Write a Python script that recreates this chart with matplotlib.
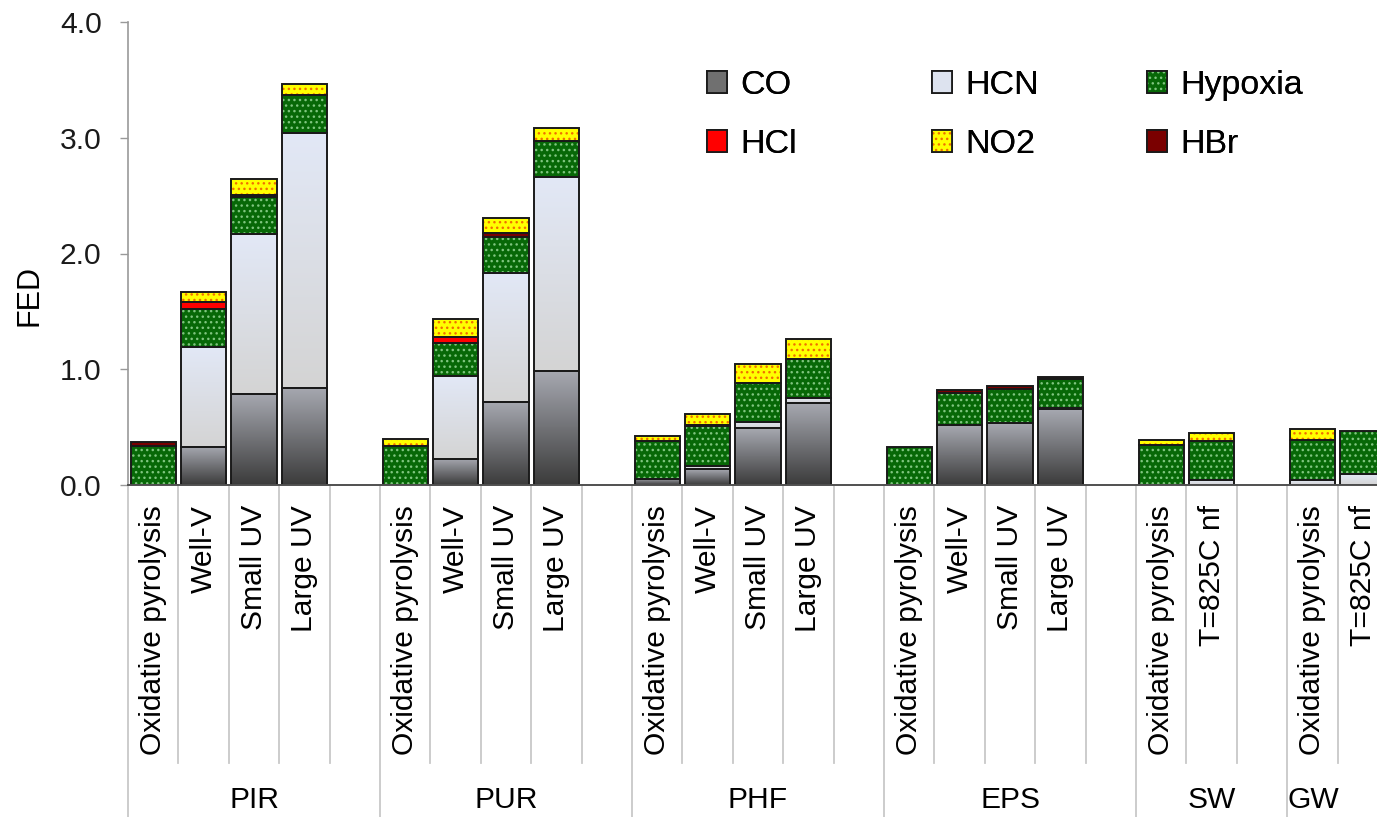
import numpy as np
import matplotlib.pyplot as plt
import matplotlib.transforms as mtransforms
from matplotlib.patches import Patch
from matplotlib.colors import LinearSegmentedColormap

plt.rcParams['font.family'] = ['Liberation Sans', 'DejaVu Sans']
plt.rcParams['hatch.linewidth'] = 1.0

# groupes de materiaux et essais
groups = ['PIR', 'PUR', 'PHF', 'EPS', 'SW', 'GW']
tests4 = ['Oxidative pyrolysis', 'Well-V', 'Small UV', 'Large UV']
tests2 = ['Oxidative pyrolysis', 'T=825C nf']
group_tests = [tests4, tests4, tests4, tests4, tests2, tests2]

# contributions FED, une valeur par barre (20 barres)
co = [0.0, 0.33, 0.79, 0.84,
      0.0, 0.225, 0.72, 0.985,
      0.052, 0.135, 0.49, 0.706,
      0.0, 0.518, 0.533, 0.654,
      0.0, 0.0,
      0.0, 0.0]
hcn = [0.0, 0.865, 1.376, 2.204,
       0.0, 0.715, 1.11, 1.673,
       0.0, 0.03, 0.057, 0.043,
       0.0, 0.0, 0.0, 0.015,
       0.0, 0.043,
       0.043, 0.095]
hypoxia = [0.337, 0.325, 0.32, 0.325,
           0.34, 0.29, 0.315, 0.314,
           0.331, 0.345, 0.337, 0.337,
           0.331, 0.279, 0.293, 0.251,
           0.345, 0.34,
           0.346, 0.37]
hcl = [0.0, 0.064, 0.0, 0.0,
       0.0, 0.046, 0.0, 0.0,
       0.0, 0.0, 0.0, 0.0,
       0.0, 0.0, 0.0, 0.0,
       0.0, 0.0,
       0.0, 0.0]
hbr = [0.037, 0.0, 0.02, 0.0,
       0.0, 0.0, 0.03, 0.0,
       0.0, 0.01, 0.0, 0.0,
       0.0, 0.023, 0.029, 0.01,
       0.0, 0.0,
       0.0, 0.0]
no2 = [0.0, 0.086, 0.136, 0.095,
       0.055, 0.154, 0.136, 0.115,
       0.04, 0.093, 0.159, 0.174,
       0.0, 0.0, 0.0, 0.0,
       0.044, 0.069,
       0.091, 0.0]

# position des barres : une case vide apres chaque groupe
xpos = []
labels = []
group_start = []
slot = 0
for tests in group_tests:
    group_start.append(slot)
    for t in tests:
        xpos.append(slot + 0.5)
        labels.append(t)
        slot += 1
    slot += 1
xpos = np.array(xpos)
n = len(xpos)
xmax = 1249 / 50.4

fig = plt.figure(figsize=(13.77, 8.17), dpi=100)
ax = fig.add_axes([128 / 1377, 332 / 817, 1 - 128 / 1377, 463 / 817])

cmap_co = LinearSegmentedColormap.from_list('co', ['#3c3c3c', '#a6a8b0'])
cmap_hcn = LinearSegmentedColormap.from_list('hcn', ['#d4d4d4', '#e2e8f6'])
grad = np.linspace(1, 0, 64).reshape(-1, 1)

W = 0.9
edge = '#1a1a1a'
bottom = np.zeros(n)

layers = [
    (co, 'grad', cmap_co, None),
    (hcn, 'grad', cmap_hcn, None),
    (hypoxia, 'hatch', '#076807', '#7fc57f'),
    (hcl, 'plain', '#ff0000', None),
    (hbr, 'plain', '#7a0000', None),
    (no2, 'hatch', '#ffff00', '#f07000'),
]

for vals, kind, c1, c2 in layers:
    vals = np.array(vals)
    m = vals > 0
    xs, hs, bs = xpos[m], vals[m], bottom[m]
    if kind == 'grad':
        bars = ax.bar(xs, hs, W, bottom=bs, color='none', edgecolor='none', zorder=2)
        for b in bars:
            x0, y0 = b.get_x(), b.get_y()
            im = ax.imshow(grad, cmap=c1, extent=[x0, x0 + b.get_width(), y0, y0 + b.get_height()],
                           aspect='auto', zorder=2, interpolation='bilinear')
            im.set_clip_path(b)
    elif kind == 'hatch':
        ax.bar(xs, hs, W, bottom=bs, color=c1, edgecolor=c2, hatch='...', linewidth=0, zorder=3)
    else:
        ax.bar(xs, hs, W, bottom=bs, color=c1, linewidth=0, zorder=3)
    ax.bar(xs, hs, W, bottom=bs, fill=False, edgecolor=edge, linewidth=1.4, zorder=4)
    bottom = bottom + vals

ax.set_xlim(0, xmax)
ax.set_ylim(0, 4)
ax.set_yticks(np.arange(0, 4.01, 1.0))
ax.set_yticklabels(['%.1f' % v for v in np.arange(0, 4.01, 1.0)])
ax.set_xticks([])
ax.tick_params(axis='y', direction='out', length=6, width=1, color='#999999',
               labelsize=21.6, labelcolor='#1a1a1a', pad=13)
for s in ['top', 'right']:
    ax.spines[s].set_visible(False)
ax.spines['left'].set_color('#999999')
ax.spines['left'].set_linewidth(1.2)
ax.spines['bottom'].set_color('#505050')
ax.spines['bottom'].set_linewidth(1.4)
ax.spines['bottom'].set_zorder(5)

# lignes de separation sous l'axe
trans = mtransforms.blended_transform_factory(ax.transData, ax.transAxes)
group_ends = group_start + [slot]
for s in range(slot + 1):
    low = -0.72 if s in group_ends else -0.60
    ax.plot([s, s], [0, low], color='#c8c8c8', lw=1.3, transform=trans, clip_on=False)

for x, t in zip(xpos, labels):
    ax.text(x, -0.043, t, rotation=90, ha='center', va='top', transform=trans, fontsize=21.6)

for i, g in enumerate(groups):
    start = group_start[i]
    end = start + len(group_tests[i]) + 1
    xc = min((start + end) / 2, xmax - 1.27)   # le dernier groupe est coupe
    ax.text(xc, -0.68, g, ha='center', va='center', transform=trans, fontsize=21.6)

fig.text(30 / 1377, 1 - 296 / 817, 'FED', rotation=90, ha='center', va='center', fontsize=22)

# legende, une colonne a la fois
def hatched(fc, hc):
    return (Patch(facecolor=fc, edgecolor=hc, hatch='...', linewidth=0),
            Patch(fill=False, edgecolor=edge, linewidth=1.3))

h_co = Patch(facecolor='#707070', edgecolor=edge, linewidth=1.3)
h_hcn = Patch(facecolor='#dde3ef', edgecolor=edge, linewidth=1.3)
h_hyp = hatched('#076807', '#7fc57f')
h_hcl = Patch(facecolor='#ff0000', edgecolor=edge, linewidth=1.3)
h_no2 = hatched('#ffff00', '#f07000')
h_hbr = Patch(facecolor='#7a0000', edgecolor=edge, linewidth=1.3)

cols = [([h_co, h_hcl], ['CO', 'HCl'], 707),
        ([h_hcn, h_no2], ['HCN', 'NO2'], 932),
        ([h_hyp, h_hbr], ['Hypoxia', 'HBr'], 1147)]
for hs, ls, xl in cols:
    leg = fig.legend(hs, ls, loc='upper left', bbox_to_anchor=(xl / 1377, 1 - 70 / 817),
                     frameon=False, fontsize=24.5, handlelength=0.6, handleheight=0.6,
                     handletextpad=0.38, labelspacing=0.82, borderpad=0, borderaxespad=0)
    fig.add_artist(leg)

fig.savefig('out.png', dpi=100)
